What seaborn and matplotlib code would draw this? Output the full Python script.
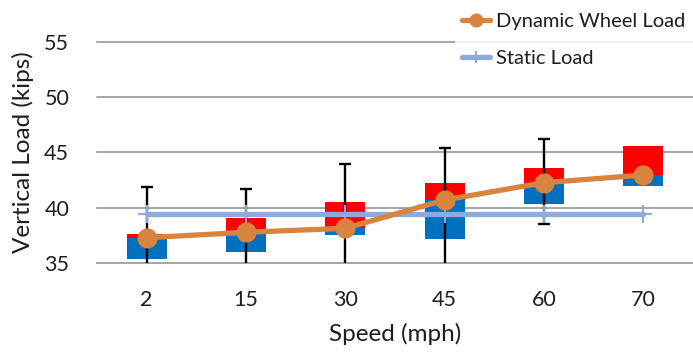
import numpy as np
import pandas as pd
import matplotlib
matplotlib.use("Agg")
import matplotlib.pyplot as plt
import seaborn as sns

# ---- data ----
speeds = ["2", "15", "30", "45", "60", "70"]
box_low = [35.33, 36.00, 37.53, 37.20, 40.31, 41.94]
dynamic_load = [37.29, 37.78, 38.14, 40.70, 42.27, 42.96]
box_high = [37.60, 39.10, 40.49, 42.27, 43.63, 45.59]
whisker_low = [32.5, 33.0, 32.0, 34.0, 38.50, np.nan]
whisker_high = [41.90, 41.72, 43.99, 45.40, 46.19, np.nan]
static_load = [39.45, 39.45, 39.45, 39.45, 39.45, 39.45]
y_ticks = [35, 40, 45, 50, 55]

sns.set_style("white")
plt.rcParams["font.family"] = ["Lato", "DejaVu Sans"]
TXT = "#1e1e1e"
GRID = "#a6a6a6"

fig = plt.figure(figsize=(6.93, 3.52), dpi=100)
ax = fig.add_axes([97 / 693, 89 / 352, 596 / 693, 221 / 352])

df = pd.DataFrame({"speed": speeds, "low": box_low, "mean": dynamic_load, "high": box_high})
df["blue_h"] = df["mean"] - df["low"]
df["red_h"] = df["high"] - df["mean"]
pos = np.arange(len(speeds))

sns.barplot(data=df, x="speed", y="blue_h", bottom=df["low"].values, color="#0070C0",
            saturation=1, width=0.4, errorbar=None, ax=ax, zorder=2, linewidth=0)
sns.barplot(data=df, x="speed", y="red_h", bottom=df["mean"].values, color="#FF0000",
            saturation=1, width=0.4, errorbar=None, ax=ax, zorder=2, linewidth=0)

wl = np.array(whisker_low, dtype=float)
wh = np.array(whisker_high, dtype=float)
mn = np.array(dynamic_load, dtype=float)
ok = np.isfinite(wl) & np.isfinite(wh)
ax.errorbar(pos[ok], mn[ok], yerr=[mn[ok] - wl[ok], wh[ok] - mn[ok]], fmt="none",
            ecolor="black", elinewidth=1.7, capsize=4.5, capthick=1.7, zorder=3)

sns.lineplot(x=pos, y=static_load, color="#8EA9DB", linewidth=3.8, marker="+",
             markersize=13, markeredgewidth=1.5, markeredgecolor="#8EA9DB",
             ax=ax, zorder=4, label="Static Load", sort=False)
sns.lineplot(x=pos, y=dynamic_load, color="#D8843E", linewidth=3.8, marker="o",
             markersize=14.5, markeredgewidth=0, markerfacecolor="#D8843E",
             ax=ax, zorder=5, label="Dynamic Wheel Load", sort=False)

ax.set_xlim(-0.5, len(speeds) - 0.5)
ax.set_ylim(35, 55)
ax.set_yticks(y_ticks)
ax.set_yticklabels([str(t) for t in y_ticks])
ax.set_xticks(pos)
ax.set_xticklabels(speeds)
ax.set_xticks(np.arange(-0.5, len(speeds)), minor=True)

ax.yaxis.grid(True, color=GRID, linewidth=1.4)
for gl in ax.get_ygridlines():
    gl.set_clip_on(False)
ax.set_axisbelow(True)

for s in ["top", "right", "left"]:
    ax.spines[s].set_visible(False)
ax.spines["bottom"].set_color(GRID)
ax.spines["bottom"].set_linewidth(1.4)

ax.tick_params(axis="x", which="major", length=0, pad=19.5, labelsize=15.5, labelcolor=TXT)
ax.tick_params(axis="x", which="minor", length=5, width=1.4, color=GRID, direction="out")
ax.tick_params(axis="y", length=0, pad=20, labelsize=15.5, labelcolor=TXT)

ax.set_xlabel("Speed (mph)", fontsize=17.5, color=TXT, labelpad=9)
ax.set_ylabel("Vertical Load (kips)", fontsize=17.5, color=TXT, labelpad=7)

handles, labels = ax.get_legend_handles_labels()
hd = dict(zip(labels, handles))
order = ["Dynamic Wheel Load", "Static Load"]
leg = ax.legend([hd[k] for k in order], order, loc="upper left",
                bbox_to_anchor=(455 / 693, 0.982), bbox_transform=fig.transFigure,
                frameon=True, fontsize=14.5, handlelength=1.4, handletextpad=0.3,
                labelspacing=0.95, borderpad=0.35, borderaxespad=0, markerscale=0.7)
leg.get_frame().set_facecolor("white")
leg.get_frame().set_edgecolor("white")
leg.get_frame().set_linewidth(0)
for t in leg.get_texts():
    t.set_color(TXT)
leg.set_zorder(10)

fig.savefig("out.png", dpi=100)
